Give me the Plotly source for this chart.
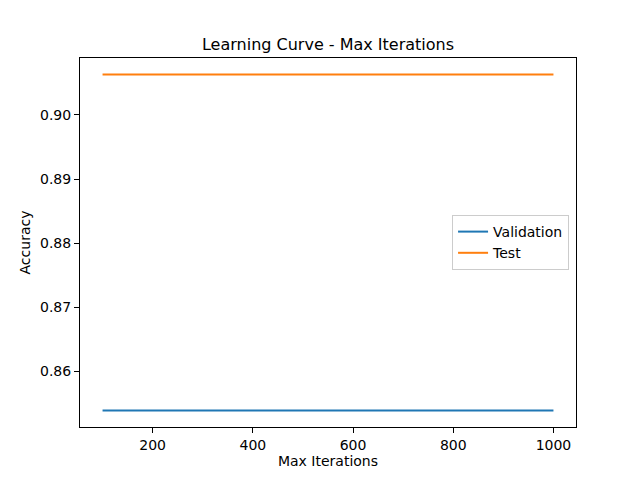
import plotly.graph_objects as go

# data
max_iterations = [100, 200, 300, 400, 500, 600, 700, 800, 900, 1000]
validation_acc = [0.8539, 0.8539, 0.8539, 0.8539, 0.8539, 0.8539, 0.8539, 0.8539, 0.8539, 0.8539]
test_acc = [0.9063, 0.9063, 0.9063, 0.9063, 0.9063, 0.9063, 0.9063, 0.9063, 0.9063, 0.9063]

x_ticks = [200, 400, 600, 800, 1000]
y_ticks = [0.86, 0.87, 0.88, 0.89, 0.90]

font_family = "DejaVu Sans"
label_font = dict(family=font_family, size=14, color="black")

fig = go.Figure()
fig.add_trace(go.Scatter(x=max_iterations, y=validation_acc, mode="lines",
                         name="Validation", line=dict(color="#1f77b4", width=2)))
fig.add_trace(go.Scatter(x=max_iterations, y=test_acc, mode="lines",
                         name="Test", line=dict(color="#ff7f0e", width=2)))

axis_style = dict(
    showline=True, linecolor="black", linewidth=1, mirror=True,
    ticks="outside", ticklen=5, tickwidth=1, tickcolor="black",
    showgrid=False, zeroline=False, automargin=False,
    tickfont=label_font,
)

# the page body adds an 8px offset, so margins are shifted to keep the axes in place
fig.update_layout(
    width=640, height=480,
    margin=dict(l=72, r=72, t=50, b=61),
    paper_bgcolor="white", plot_bgcolor="white",
    font=label_font,
    title=dict(text="Learning Curve - Max Iterations", x=0.5, xref="paper",
               y=1, yref="paper", yanchor="bottom", pad=dict(b=8),
               font=dict(family=font_family, size=16, color="black"),
               automargin=False),
    xaxis=dict(range=[55, 1045], tickvals=x_ticks,
               title=dict(text="Max Iterations", standoff=4, font=label_font),
               **axis_style),
    yaxis=dict(range=[0.85131, 0.90889], tickvals=y_ticks, tickformat=".2f",
               title=dict(text="Accuracy", standoff=6, font=label_font),
               **axis_style),
    legend=dict(x=0.986, xanchor="right", y=0.5, yanchor="middle",
                bordercolor="#cccccc", borderwidth=1, bgcolor="white",
                itemwidth=30, font=label_font),
    showlegend=True,
)

fig.write_html("out.html")
